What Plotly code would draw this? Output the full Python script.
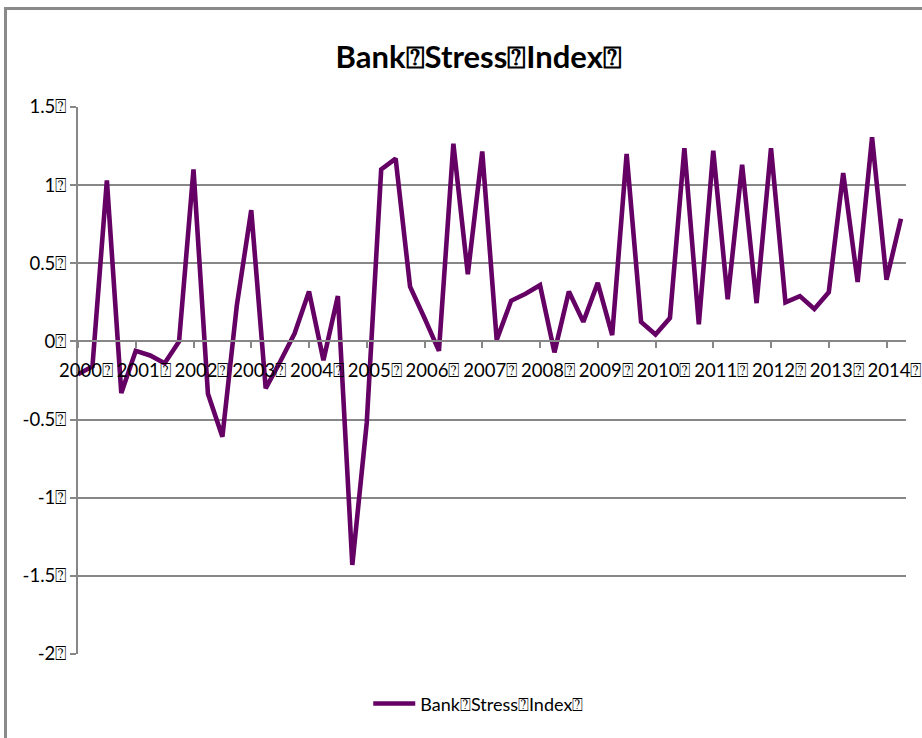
import plotly.graph_objects as go

# Quarterly observations, 2000 Q1 through 2014 Q2
quarters = [f"{yr}Q{q}" for yr in range(2000, 2015) for q in range(1, 5)][:58]

bank_stress = [
    -0.21, -0.16, 1.03, -0.33, -0.06, -0.09, -0.14, 0.00,   # 2000-2001
    1.10, -0.335, -0.61, 0.23, 0.84, -0.30, -0.13, 0.05,     # 2002-2003
    0.32, -0.12, 0.29, -1.43, -0.52, 1.10, 1.17, 0.35,       # 2004-2005
    0.15, -0.06, 1.265, 0.43, 1.215, 0.01, 0.26, 0.305,      # 2006-2007
    0.36, -0.07, 0.32, 0.125, 0.375, 0.04, 1.20, 0.125,      # 2008-2009
    0.045, 0.15, 1.237, 0.11, 1.22, 0.27, 1.13, 0.245,       # 2010-2011
    1.237, 0.25, 0.29, 0.207, 0.315, 1.077, 0.38, 1.307,     # 2012-2013
    0.395, 0.785,                                            # 2014
]

series_name = "Bank\u2370Stress\u2370Index\u2370"
year_ticks = [f"{yr}Q1" for yr in range(2000, 2015)]
year_labels = [f"{yr}\u2370" for yr in range(2000, 2015)]
y_ticks = [1.5, 1.0, 0.5, 0.0, -0.5, -1.0, -1.5, -2.0]
y_labels = ["1.5\u2370", "1\u2370", "0.5\u2370", "0\u2370", "-0.5\u2370", "-1\u2370", "-1.5\u2370", "-2\u2370"]

GRID = "#878787"
LINE = "#650065"
FONT = "Lato, 'Open Sans', sans-serif"

y_min, y_max = -2.0, 1.5

fig = go.Figure()
fig.add_trace(go.Scatter(
    x=quarters, y=bank_stress, mode="lines", name=series_name,
    line=dict(color=LINE, width=4.6), showlegend=True,
))

fig.update_layout(
    width=922, height=738,
    margin=dict(l=78, r=16, t=107, b=84, autoexpand=False),
    paper_bgcolor="white", plot_bgcolor="white",
    font=dict(family=FONT, size=18, color="black"),
    title=dict(text="<b>" + series_name + "</b>", x=0.484, xref="paper",
               y=1 - 57 / 738, yref="container", xanchor="center", yanchor="middle",
               font=dict(family=FONT, size=31, color="black")),
    showlegend=True,
    legend=dict(orientation="h", x=0.484, xanchor="center", y=-0.091, yanchor="middle",
                itemwidth=42, font=dict(family=FONT, size=18), bgcolor="rgba(0,0,0,0)"),
    xaxis=dict(
        type="category", range=[0, 57.35], automargin=False,
        anchor="free", position=(0 - y_min) / (y_max - y_min),
        tickmode="array", tickvals=year_ticks, ticktext=year_labels,
        showgrid=False, zeroline=False,
        showline=True, linecolor=GRID, linewidth=2,
        ticks="outside", ticklen=6, tickwidth=2, tickcolor=GRID,
        ticklabelshift=8, ticklabelstandoff=6,
        tickfont=dict(family=FONT, size=18.5),
    ),
    yaxis=dict(
        range=[y_min, y_max], automargin=False,
        tickmode="array", tickvals=y_ticks, ticktext=y_labels,
        showgrid=True, gridcolor=GRID, gridwidth=2, zeroline=False,
        showline=True, linecolor=GRID, linewidth=2,
        ticks="outside", ticklen=6, tickwidth=2, tickcolor=GRID,
        tickfont=dict(family=FONT, size=18.5),
    ),
    shapes=[dict(type="rect", xref="paper", yref="paper",
                 x0=(5.5 - 78) / 828, x1=1.5, y0=-0.5, y1=(654 - 8.5) / 547,
                 line=dict(color="#8a8a8a", width=3), fillcolor="rgba(0,0,0,0)", layer="below")],
)

fig.write_html("out.html")
